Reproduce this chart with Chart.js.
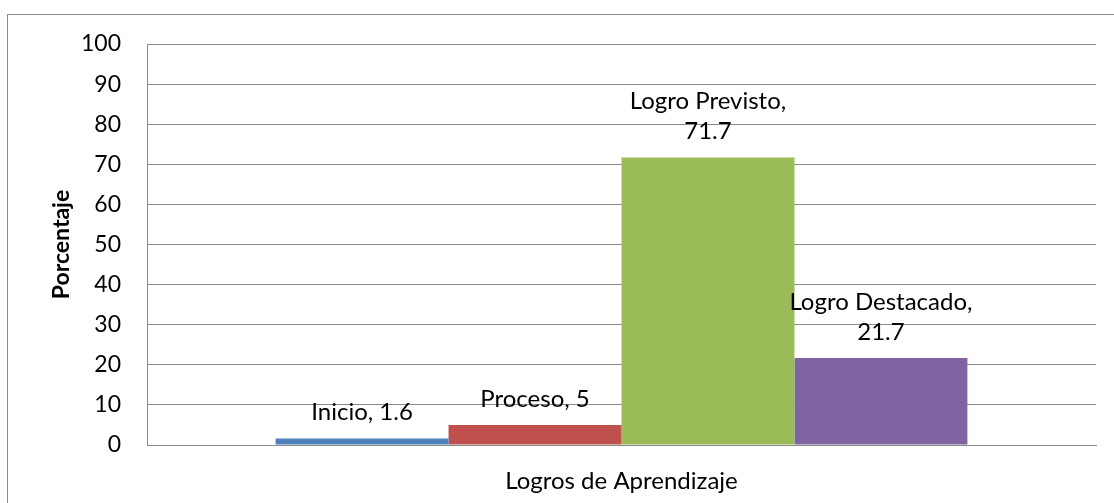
<!DOCTYPE html>
<html>
<head>
<meta charset="utf-8">
<script src="https://cdn.jsdelivr.net/npm/chart.js@4/dist/chart.umd.min.js"></script>
<style>
  html, body { margin: 0; padding: 0; background: #fff; }
  #wrap { width: 1114px; height: 503px; position: relative; }
</style>
</head>
<body>
<div id="wrap"><canvas id="chart"></canvas></div>
<script>
// datos del grafico
const categories = ['Logros de Aprendizaje'];
const seriesNames = ['Inicio', 'Proceso', 'Logro Previsto', 'Logro Destacado'];
const seriesValues = [1.6, 5, 71.7, 21.7];
const seriesColors = ['#4F81BD', '#C0504D', '#9BBB59', '#8064A2'];
const yTicks = [0, 10, 20, 30, 40, 50, 60, 70, 80, 90, 100];

const FONT = 'Lato, "Open Sans", sans-serif';
const GRID = '#8a8a8a';

// marco exterior tipo Excel
const frame = {
    id: 'frame',
    beforeDraw(chart) {
        const c = chart.ctx;
        c.save();
        c.strokeStyle = GRID;
        c.lineWidth = 1;
        c.strokeRect(7.5, 14.5, 1300, 700);
        c.restore();
    }
};

// etiquetas "serie, valor" encima de cada barra
const barLabels = {
    id: 'barLabels',
    afterDatasetsDraw(chart) {
        const c = chart.ctx;
        c.save();
        c.font = '24px ' + FONT;
        c.fillStyle = '#000';
        c.textAlign = 'center';
        c.textBaseline = 'middle';
        chart.data.datasets.forEach((ds, i) => {
            const bar = chart.getDatasetMeta(i).data[0];
            const txt = ds.label + ', ' + ds.data[0];
            let lines = [txt];
            if (c.measureText(txt).width > 170) lines = [ds.label + ',', String(ds.data[0])];
            lines.reverse().forEach((l, k) => {
                c.fillText(l, bar.x, bar.y - 26 - k * 30);
            });
        });
        c.restore();
    }
};

new Chart(document.getElementById('chart'), {
    type: 'bar',
    data: {
        labels: categories,
        datasets: seriesNames.map((n, i) => ({
            label: n,
            data: [seriesValues[i]],
            backgroundColor: seriesColors[i],
            borderWidth: 0,
            categoryPercentage: 0.729,
            barPercentage: 1
        }))
    },
    options: {
        responsive: true,
        maintainAspectRatio: false,
        animation: false,
        layout: { padding: { left: 0, top: 44, right: 18, bottom: 0 } },
        plugins: {
            legend: { display: false },
            tooltip: { enabled: false }
        },
        scales: {
            x: {
                grid: { display: false },
                border: { display: true, color: GRID, width: 1 },
                ticks: { color: '#000', font: { family: FONT, size: 24 }, padding: 14 },
                afterFit(s) { s.height = 58; }
            },
            y: {
                min: 0,
                max: 100,
                afterBuildTicks(s) { s.ticks = yTicks.map(v => ({ value: v })); },
                grid: { color: GRID, lineWidth: 1, drawTicks: false },
                border: { display: true, color: GRID, width: 1 },
                ticks: { color: '#000', font: { family: FONT, size: 23 }, padding: 26 },
                title: {
                    display: true,
                    text: 'Porcentaje',
                    color: '#000',
                    font: { family: FONT, size: 23, weight: 'bold' },
                    padding: { top: 48, bottom: 0 }
                },
                afterFit(s) { s.width = 147; }
            }
        }
    },
    plugins: [frame, barLabels]
});
</script>
</body>
</html>
